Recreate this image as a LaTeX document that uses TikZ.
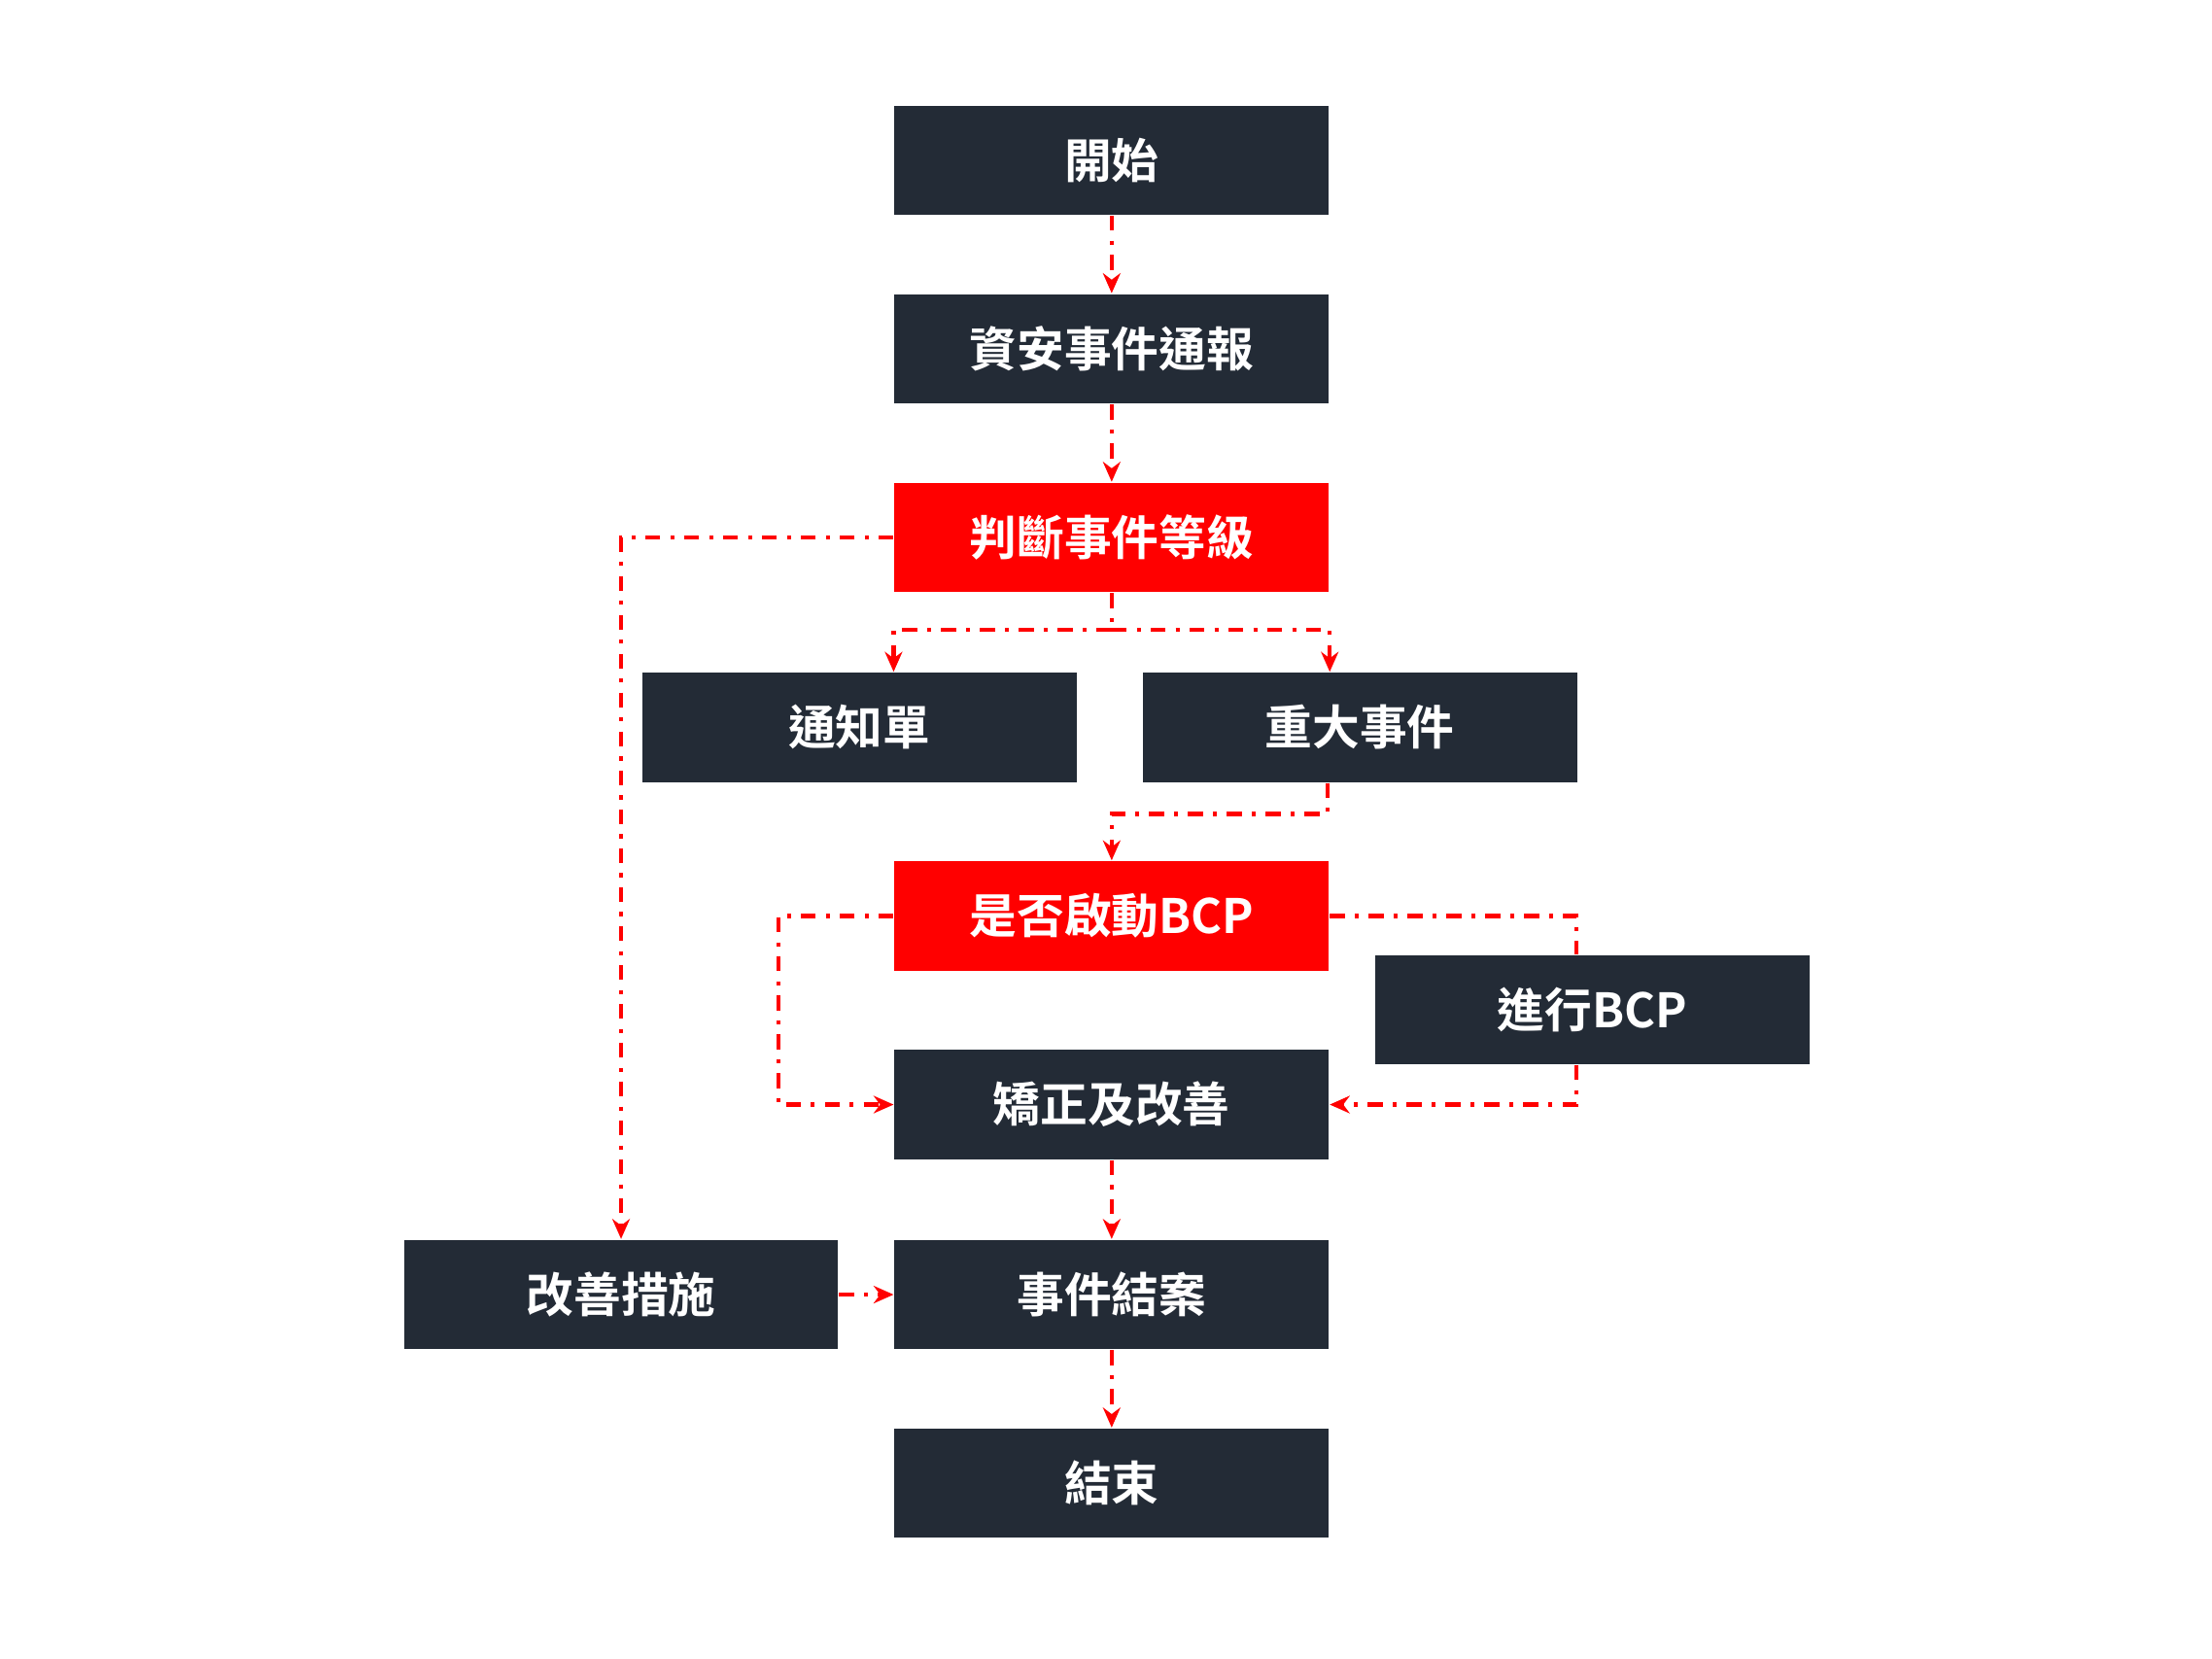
\documentclass[tikz,border=0pt]{standalone}
\usepackage{fontspec}
\newfontfamily\cjk{Noto Sans CJK TC}[BoldFont={Noto Sans CJK TC Bold}]
\usetikzlibrary{arrows.meta}
\definecolor{dark}{HTML}{232B36}
\definecolor{redc}{HTML}{FF0000}
\begin{document}
\begin{tikzpicture}[x=0.01cm,y=-0.01cm,
  box/.style={fill=dark,minimum width=3.06cm,minimum height=0.77cm,inner sep=0,text=white,font=\cjk\bfseries\fontsize{9.5pt}{11pt}\selectfont},
  hot/.style={box,fill=redc},
  ln/.style={draw=redc,line width=0.8pt,dash pattern=on 3pt off 2pt on 0.8pt off 2pt},
  ar/.style={ln,-{Stealth[length=4pt,width=3.5pt]}}]
\useasboundingbox (0,0) rectangle (1560,1170);
\node[box] (start) at (784,113) {開始};
\node[box] (report) at (784,246) {資安事件通報};
\node[hot] (judge) at (784,379) {判斷事件等級};
\node[box] (notice) at (606,513) {通知單};
\node[box] (major) at (959,513) {重大事件};
\node[hot] (bcpq) at (784,646) {是否啟動BCP};
\node[box] (bcp) at (1123,712) {進行BCP};
\node[box] (fix) at (784,779) {矯正及改善};
\node[box] (improve) at (438,913) {改善措施};
\node[box] (close) at (784,913) {事件結案};
\node[box] (end) at (784,1046) {結束};
\coordinate (s1) at (784,444);
\draw[ar] (start) -- (report);
\draw[ar] (report) -- (judge);
\draw[ln] (judge.south) -- (s1);
\draw[ar] (s1) -| (notice.north east -| judge.south west);
\draw[ar] (s1) -| (major.north west -| judge.south east);
\draw[ar] (judge.west) -| (improve.north);
\draw[ar] (major.south west) ++(131,0) coordinate (m1) (m1) |- (784,574) -- (bcpq.north);
\draw[ar] (bcpq.west) -| (549,779) -- (fix.west);
\draw[ln] (bcpq.east) -| (bcp.north west -| 1112,0);
\draw[ar] (bcp.south west -| 1112,0) |- (fix.east);
\draw[ar] (fix) -- (close);
\draw[ar] (improve) -- (close);
\draw[ar] (close) -- (end);
\end{tikzpicture}
\end{document}
